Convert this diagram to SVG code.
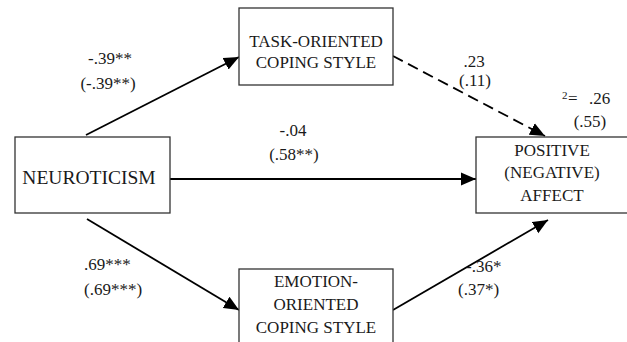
<svg xmlns="http://www.w3.org/2000/svg" width="627" height="342" viewBox="0 0 627 342">
<style>
text{font-family:"Liberation Serif","Times New Roman","DejaVu Serif",serif;font-size:17px;fill:#1a1a1a}
.c{text-anchor:middle}
.big{font-size:19.5px}
.box{fill:#fff;stroke:#333;stroke-width:1.3}
.ln{stroke:#000;stroke-width:1.8;fill:none}
.dash{stroke-dasharray:11 6}
</style>
<defs>
<marker id="ah" markerUnits="userSpaceOnUse" markerWidth="16" markerHeight="14" refX="15" refY="6.5" orient="auto" viewBox="0 0 16 13">
<path d="M0,0 L15,6.5 L0,13 z" fill="#000"/>
</marker>
</defs>
<rect width="627" height="342" fill="#fff"/>
<g id="connectors">
<line class="ln" x1="86" y1="135" x2="239" y2="57" marker-end="url(#ah)"/>
<line class="ln" x1="170" y1="179" x2="476" y2="179" marker-end="url(#ah)"/>
<line class="ln" x1="87" y1="219" x2="239" y2="310" marker-end="url(#ah)"/>
<line class="ln dash" x1="393" y1="56" x2="545" y2="136" marker-end="url(#ah)"/>
<line class="ln" x1="393" y1="310" x2="548" y2="220" marker-end="url(#ah)"/>
</g>
<g id="labels">
<text class="c" x="110" y="64">-.39**</text>
<text class="c" x="108" y="89">(-.39**)</text>
<text class="c" x="474" y="67">.23</text>
<text class="c" x="475" y="86">(.11)</text>
<text class="c" x="293" y="136">-.04</text>
<text class="c" x="294" y="160">(.58**)</text>
<text x="84" y="270">.69***</text>
<text x="84" y="295">(.69***)</text>
<text x="466" y="272">-.36*</text>
<text x="458" y="295">(.37*)</text>
<text><tspan x="562" y="99" font-size="11">2</tspan><tspan x="568" y="104">=</tspan><tspan x="589" y="104">.26</tspan></text>
<text class="c" x="590" y="127">(.55)</text>
</g>
<g id="task">
<rect class="box" x="239" y="8" width="154" height="77"/>
<text class="c" x="316" y="47">TASK-ORIENTED</text>
<text class="c" x="316" y="68">COPING STYLE</text>
</g>
<g id="neuroticism">
<rect class="box" x="15" y="137" width="155" height="76"/>
<text class="c big" x="89" y="184">NEUROTICISM</text>
</g>
<g id="affect">
<rect class="box" x="476" y="137" width="152" height="76"/>
<text class="c" x="552" y="156">POSITIVE</text>
<text class="c" x="552" y="178">(NEGATIVE)</text>
<text class="c" x="552" y="201">AFFECT</text>
</g>
<g id="emotion">
<rect class="box" x="239" y="269" width="154" height="90"/>
<text class="c" x="316" y="287">EMOTION-</text>
<text class="c" x="316" y="310">ORIENTED</text>
<text class="c" x="316" y="333">COPING STYLE</text>
</g>
</svg>
